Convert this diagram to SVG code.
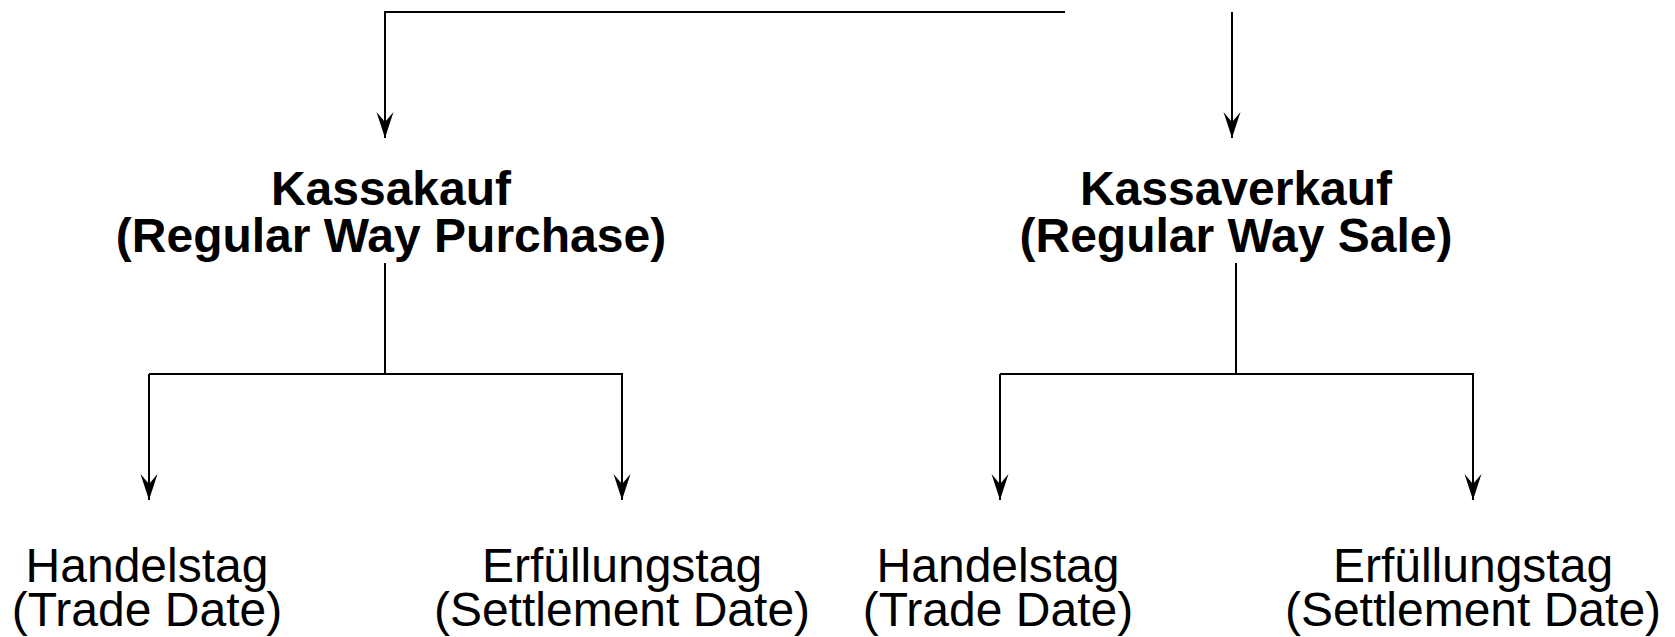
<svg xmlns="http://www.w3.org/2000/svg" width="1675" height="637" viewBox="0 0 1675 637">
<style>
.ln{fill:none;stroke:#000;stroke-width:2}
.h{font-family:"Liberation Sans",Arial,sans-serif;font-weight:bold;font-size:48px;text-anchor:middle;fill:#000}
.t{font-family:"Liberation Sans",Arial,sans-serif;font-size:48px;text-anchor:middle;fill:#000}
</style>
<defs>
<marker id="arr" markerUnits="userSpaceOnUse" markerWidth="30" markerHeight="20" viewBox="0 0 30 20" refX="26" refY="10" orient="auto">
<path d="M26,10 L0,1.5 L10,10 L0,18.5 Z" fill="#000"/>
</marker>
</defs>
<g id="connectors">
<path class="ln" d="M1065,12 H385 V138" marker-end="url(#arr)"/>
<path class="ln" d="M1232,12 V138" marker-end="url(#arr)"/>
<path class="ln" d="M385,263 V374"/>
<path class="ln" d="M149,374 H622 V500" marker-end="url(#arr)"/>
<path class="ln" d="M149,374 V500" marker-end="url(#arr)"/>
<path class="ln" d="M1236,263 V374"/>
<path class="ln" d="M1000,374 H1473 V500" marker-end="url(#arr)"/>
<path class="ln" d="M1000,374 V500" marker-end="url(#arr)"/>
</g>
<g id="kassakauf"><text class="h" x="391" y="205">Kassakauf</text><text class="h" x="391" y="252">(Regular Way Purchase)</text></g>
<g id="kassaverkauf"><text class="h" x="1236" y="205">Kassaverkauf</text><text class="h" x="1236" y="252">(Regular Way Sale)</text></g>
<g id="handelstag1"><text class="t" x="147" y="582">Handelstag</text><text class="t" x="147" y="626">(Trade Date)</text></g>
<g id="erfuellungstag1"><text class="t" x="622" y="582">Erfüllungstag</text><text class="t" x="622" y="626">(Settlement Date)</text></g>
<g id="handelstag2"><text class="t" x="998" y="582">Handelstag</text><text class="t" x="998" y="626">(Trade Date)</text></g>
<g id="erfuellungstag2"><text class="t" x="1473" y="582">Erfüllungstag</text><text class="t" x="1473" y="626">(Settlement Date)</text></g>
</svg>
